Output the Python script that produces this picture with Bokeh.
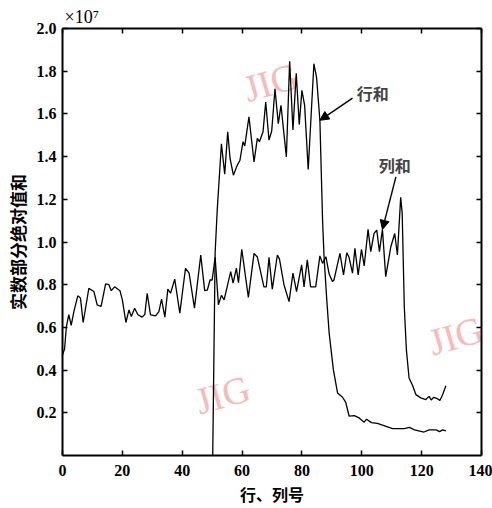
from math import radians
from bokeh.plotting import figure
from bokeh.models import (LinearAxis, FixedTicker, PrintfTickFormatter, Label,
                          Arrow, NormalHead, Range1d, CustomJSTickFormatter)
from bokeh.embed import file_html
from bokeh.resources import INLINE

# ---------------- data ----------------
col_x = [0, 0.7, 1.3, 2.1, 2.9, 3.8, 5.1, 6.0, 6.9, 8.8, 10.5, 11.6, 12.9, 14.4,
         15.5, 16.3, 17.4, 19.2, 20.0, 21.2, 22.2, 23.0, 24.1, 25.2, 26.6, 27.5,
         28.3, 29.4, 31.1, 32.2, 33.1, 34.2, 35.2, 36.1, 37.5, 39.2, 41.1, 42.3,
         44.1, 46.2, 47.5, 48.4, 49.3, 50.0, 51.0, 52.1, 53.1, 54.0, 56.2, 57.0,
         58.1, 58.8, 59.9, 62.1, 64.0, 65.1, 67.3, 68.1, 69.0, 70.1, 71.8, 72.5,
         74.0, 75.7, 77.0, 78.2, 79.9, 80.7, 81.8, 82.9, 84.6, 86.0, 86.9, 88.0,
         89.1, 90.2, 90.7, 92.7, 93.9, 95.0, 95.7, 96.9, 97.7, 98.8, 99.9, 100.8,
         102.1, 103.0, 104.1, 105.0, 105.9, 106.9, 108.0, 109.7, 111.0, 111.9,
         113.0, 113.5, 114.2, 114.9, 115.8, 116.9, 118.1, 119.7, 121.4, 122.5,
         123.2, 124.0, 125.0, 126.1, 127.0, 128.1]
col_y = [0.47, 0.50, 0.604, 0.66, 0.61, 0.674, 0.748, 0.738, 0.623, 0.783, 0.768,
         0.705, 0.698, 0.804, 0.80, 0.772, 0.79, 0.772, 0.729, 0.623, 0.682, 0.651,
         0.69, 0.659, 0.648, 0.66, 0.76, 0.659, 0.654, 0.674, 0.732, 0.648, 0.779,
         0.76, 0.826, 0.667, 0.877, 0.854, 0.69, 0.939, 0.772, 0.775, 0.822, 0.822,
         0.928, 0.706, 0.75, 0.729, 0.861, 0.807, 0.877, 0.81, 0.966, 0.741, 0.947,
         0.93, 0.79, 0.79, 0.928, 0.779, 0.939, 0.92, 0.80, 0.721, 0.854, 0.768,
         0.893, 0.79, 0.916, 0.79, 0.79, 0.935, 0.90, 0.931, 0.85, 0.815, 0.822,
         0.947, 0.846, 0.95, 0.93, 0.854, 0.97, 0.846, 0.966, 0.888, 1.059, 0.955,
         1.04, 1.056, 0.955, 1.059, 0.838, 0.978, 1.04, 0.939, 1.209, 1.135, 0.698,
         0.495, 0.363, 0.33, 0.285, 0.27, 0.262, 0.277, 0.26, 0.272, 0.268, 0.258,
         0.285, 0.327]

row_x = [50.2, 51.0, 51.7, 53.1, 54.2, 55.2, 56.0, 57.1, 58.4, 59.3, 60.3, 60.9,
         62.3, 64.0, 65.1, 65.8, 67.0, 67.9, 69.0, 69.9, 71.0, 72.1, 73.0, 74.8,
         75.9, 77.0, 78.1, 79.1, 80.0, 80.9, 82.1, 84.0, 84.9, 86.0, 86.9, 87.4,
         88.3, 89.1, 90.5, 91.9, 93.5, 94.6, 95.8, 97.5, 99.1, 100.8, 101.6, 103.2,
         105.2, 107.4, 110.3, 114.2, 115.9, 117.6, 120.8, 122.5, 124.8, 126.0,
         127.0, 128.1]
row_y = [0.0, 0.95, 1.15, 1.46, 1.318, 1.516, 1.39, 1.313, 1.36, 1.383, 1.469,
         1.45, 1.586, 1.375, 1.485, 1.47, 1.516, 1.656, 1.477, 1.52, 1.718, 1.554,
         1.64, 1.399, 1.847, 1.525, 1.79, 1.55, 1.71, 1.64, 1.34, 1.835, 1.77, 1.57,
         1.10, 0.93, 0.729, 0.573, 0.402, 0.293, 0.274, 0.25, 0.184, 0.187, 0.176,
         0.156, 0.17, 0.154, 0.15, 0.14, 0.126, 0.126, 0.132, 0.12, 0.11, 0.12,
         0.12, 0.112, 0.12, 0.115]

x_ticks = [0, 20, 40, 60, 80, 100, 120, 140]
y_ticks = [0.2, 0.4, 0.6, 0.8, 1.0, 1.2, 1.4, 1.6, 1.8, 2.0]

x_title = "行、列号"
y_title = "实数部分绝对值和"
scale_text = "×10⁷"
row_name = "行和"
col_name = "列和"
watermark = "JIG"

row_arrow_idx = row_x.index(86.0)
col_arrow_idx = col_x.index(106.9)

CJK = "Noto Sans CJK SC"
SERIF = "Liberation Serif"

# ---------------- figure ----------------
p = figure(width=492, height=508, x_range=Range1d(0, 140), y_range=Range1d(0, 2.0),
           output_backend="svg", toolbar_location=None,
           min_border_left=62, min_border_right=11, min_border_top=28,
           min_border_bottom=52, background_fill_color="white",
           border_fill_color="white")
p.outline_line_color = None
p.xgrid.visible = False
p.ygrid.visible = False

# scale factor shown as a left-aligned title above the frame
p.title.text = scale_text
p.title.align = "left"
p.title.offset = 2
p.title.standoff = 3
p.title.text_font = SERIF
p.title.text_font_style = "normal"
p.title.text_font_size = "18px"
p.title.text_color = "black"

empty_fmt = CustomJSTickFormatter(code="return ''")

def style_axis(ax, ticks, show_labels):
    ax.ticker = FixedTicker(ticks=ticks)
    ax.major_tick_in = 5
    ax.major_tick_out = 0
    ax.minor_tick_in = 0
    ax.minor_tick_out = 0
    ax.axis_line_width = 2
    ax.axis_line_color = "black"
    ax.major_tick_line_width = 1.5
    ax.major_tick_line_color = "black"
    if show_labels:
        ax.major_label_text_font = SERIF
        ax.major_label_text_font_style = "bold"
        ax.major_label_text_font_size = "16px"
        ax.major_label_text_color = "black"
    else:
        ax.formatter = empty_fmt
        ax.major_label_standoff = 0

style_axis(p.xaxis[0], x_ticks, True)
p.xaxis[0].major_label_standoff = 9
p.xaxis[0].axis_label = x_title
p.xaxis[0].axis_label_text_font = CJK
p.xaxis[0].axis_label_text_font_size = "16px"
p.xaxis[0].axis_label_text_font_style = "bold"
p.xaxis[0].axis_label_text_color = "black"
p.xaxis[0].axis_label_standoff = 3

style_axis(p.yaxis[0], y_ticks, True)
p.yaxis[0].major_label_standoff = 6
p.yaxis[0].formatter = PrintfTickFormatter(format="%.1f")
p.yaxis[0].axis_label = y_title
p.yaxis[0].axis_label_text_font = CJK
p.yaxis[0].axis_label_text_font_size = "17px"
p.yaxis[0].axis_label_text_font_style = "bold"
p.yaxis[0].axis_label_text_color = "black"
p.yaxis[0].axis_label_standoff = 4

top = LinearAxis()
style_axis(top, x_ticks, False)
p.add_layout(top, "above")
right = LinearAxis()
style_axis(right, y_ticks, False)
p.add_layout(right, "right")

# watermarks (behind everything)
for wx, wy in [(69.6, 1.748), (53.5, 0.285), (131.4, 0.561)]:
    p.add_layout(Label(x=wx, y=wy, text=watermark, angle=radians(16),
                       text_font=SERIF, text_font_size="38px",
                       text_color="#f7baba", text_align="center",
                       text_baseline="middle", level="underlay"))

p.line(col_x, col_y, line_color="black", line_width=1.3)
p.line(row_x, row_y, line_color="black", line_width=1.3)

# annotations
p.add_layout(Arrow(end=NormalHead(size=9, fill_color="black", line_color="black"),
                   x_start=96.9, y_start=1.674,
                   x_end=row_x[row_arrow_idx], y_end=row_y[row_arrow_idx],
                   line_width=1.4, line_color="black"))
p.add_layout(Arrow(end=NormalHead(size=9, fill_color="black", line_color="black"),
                   x_start=111.4, y_start=1.305,
                   x_end=col_x[col_arrow_idx], y_end=col_y[col_arrow_idx],
                   line_width=1.4, line_color="black"))
p.add_layout(Label(x=103.7, y=1.70, text=row_name, text_font=CJK,
                   text_font_size="16px", text_font_style="bold",
                   text_align="center", text_baseline="middle"))
p.add_layout(Label(x=111.0, y=1.36, text=col_name, text_font=CJK,
                   text_font_size="16px", text_font_style="bold",
                   text_align="center", text_baseline="middle"))

open("out.html", "w").write(file_html(p, INLINE))
